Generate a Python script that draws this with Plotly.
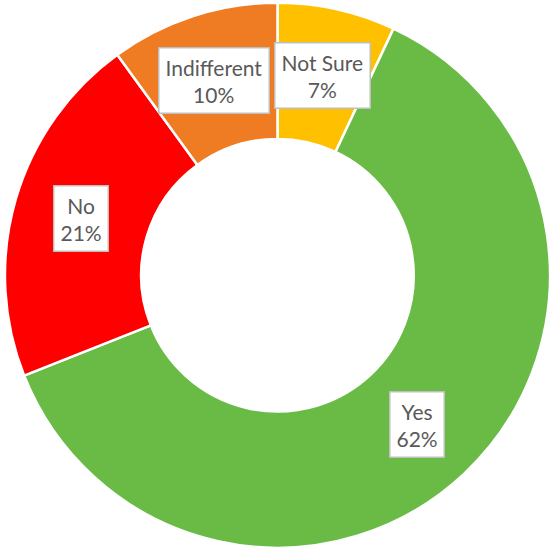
import numpy as np
import plotly.graph_objects as go

labels = ["Not Sure", "Yes", "No", "Indifferent"]
values = [7, 62, 21, 10]
colors = ["#FFC000", "#6ABB46", "#FF0000", "#EF7B23"]

W, H = 550, 551
dom_x = [0.009, 1.0]
dom_y = [0.005, 0.996]
hole = 0.5

fig = go.Figure()
fig.add_trace(go.Pie(
    labels=labels, values=values,
    sort=False, direction="clockwise", rotation=0,
    hole=hole,
    marker=dict(colors=colors, line=dict(color="white", width=2.5)),
    textinfo="none", hoverinfo="label+percent",
    showlegend=False,
    domain=dict(x=dom_x, y=dom_y),
))

# label boxes sit in the middle of the ring, at each slice's mid angle
cx = (dom_x[0] + dom_x[1]) / 2 * W
cy = (dom_y[0] + dom_y[1]) / 2 * H
r_out = min((dom_x[1] - dom_x[0]) * W, (dom_y[1] - dom_y[0]) * H) / 2
r_mid = r_out * (1 + hole) / 2

total = sum(values)
cum = np.cumsum([0] + values[:-1])
for lab, v, c0 in zip(labels, values, cum):
    ang = 2 * np.pi * (c0 + v / 2) / total
    px = cx + r_mid * np.sin(ang)
    py = cy + r_mid * np.cos(ang)
    fig.add_annotation(
        x=px / W, y=py / H, xref="paper", yref="paper",
        xanchor="center", yanchor="middle",
        text=f"{lab}<br>{round(100 * v / total)}%",
        showarrow=False,
        font=dict(family="Lato, Open Sans, sans-serif", size=21, color="#595959"),
        bgcolor="white", bordercolor="#BFBFBF", borderwidth=1.5, borderpad=6,
    )

fig.update_layout(
    width=W, height=H,
    margin=dict(l=0, r=0, t=0, b=0),
    paper_bgcolor="white",
    plot_bgcolor="white",
)

fig.write_html("out.html", config={"displayModeBar": False},
               post_script="document.body.style.margin='0';")
